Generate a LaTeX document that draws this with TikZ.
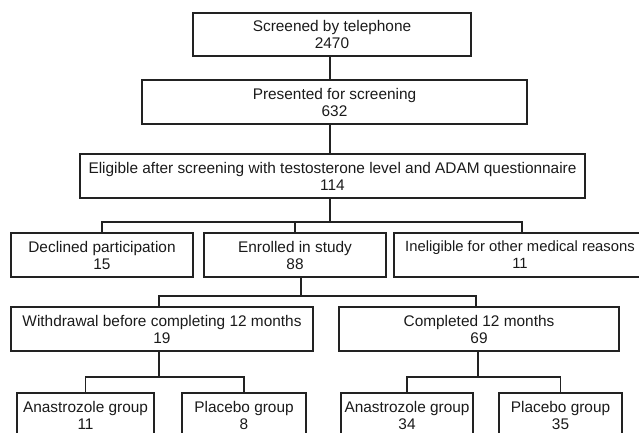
\documentclass[tikz,border=0pt]{standalone}
\usepackage{fontspec}
\setmainfont{Liberation Sans}
\definecolor{linec}{HTML}{222222}
\definecolor{textc}{HTML}{1A1A1A}
\begin{document}
\begin{tikzpicture}[x=1pt,y=-1pt,
  box/.style={draw=linec, line width=1.2pt, minimum height=44pt, inner sep=0pt,
    align=center, font=\fontsize{15.4}{17}\selectfont, text=textc},
  conn/.style={draw=linec, line width=1.2pt}]
\useasboundingbox (0,0) rectangle (639,433);
\clip (0,0) rectangle (639,433);
% top chain
\node[box, minimum width=278pt, minimum height=43pt] (b1) at (332,34.5) {Screened by telephone\\2470};
\node[box, minimum width=385pt] (b2) at (334.5,102) {Presented for screening\\632};
\node[box, minimum width=505pt] (b3) at (332.5,176) {Eligible after screening with testosterone level and ADAM questionnaire\\114};
% row 4
\node[box, minimum width=182pt] (dec) at (102,255) {Declined participation\\15};
\node[box, minimum width=182pt] (enr) at (295,255) {Enrolled in study\\88};
\node[box, minimum width=252pt, font=\fontsize{14.8}{17}\selectfont] (inel) at (520,255) {Ineligible for other medical reasons\\11};
% row 5
\node[box, minimum width=302pt] (wd) at (162,329) {Withdrawal before completing 12 months\\19};
\node[box, minimum width=280pt] (cp) at (479,329) {Completed 12 months\\69};
% row 6
\node[box, minimum width=137pt] (a1) at (85.5,415) {Anastrozole group\\11};
\node[box, minimum width=124pt] (p1) at (244,415) {Placebo group\\8};
\node[box, minimum width=132pt] (a2) at (407,415) {Anastrozole group\\34};
\node[box, minimum width=123pt] (p2) at (560.5,415) {Placebo group\\35};
% connectors
\coordinate (t) at (330,0);
\coordinate (h1) at (330,222);
\coordinate (i1) at (522,222);
\draw[conn] (b1.south -| t) -- (b2.north -| t);
\draw[conn] (b2.south -| t) -- (b3.north -| t);
\draw[conn] (b3.south -| t) -- (h1);
\draw[conn] (dec.north) -- (dec.north |- h1) -- (i1) -- (inel.north -| i1);
\draw[conn] (enr.north) -- (enr.north |- h1);
\coordinate (e2) at (301,296);
\coordinate (w2) at (159,296);
\coordinate (c2) at (476,296);
\draw[conn] (enr.south -| e2) -- (e2);
\draw[conn] (wd.north -| w2) -- (w2) -- (c2) -- (cp.north -| c2);
\coordinate (w3) at (159,377);
\coordinate (c3) at (478,377);
\draw[conn] (wd.south -| w3) -- (w3);
\draw[conn] (a1.north) -- (a1.north |- w3) -- (p1.north |- w3) -- (p1.north);
\draw[conn] (cp.south -| c3) -- (c3);
\draw[conn] (a2.north) -- (a2.north |- c3) -- (p2.north |- c3) -- (p2.north);
\end{tikzpicture}
\end{document}
